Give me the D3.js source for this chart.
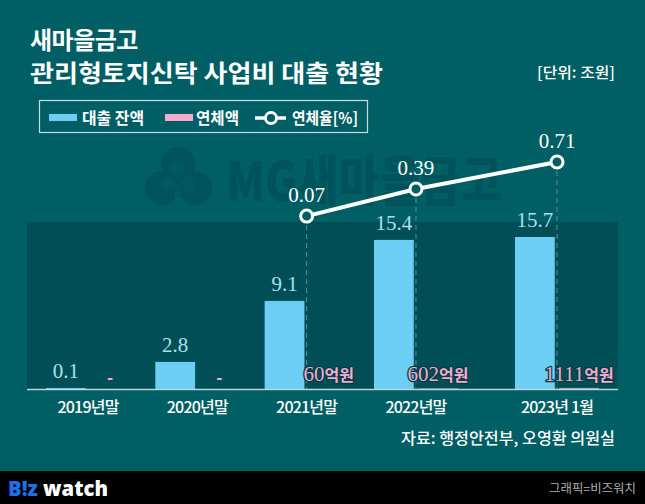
<!DOCTYPE html>
<html><head><meta charset="utf-8">
<script src="https://cdn.jsdelivr.net/npm/d3@7"></script>
<style>
html,body{margin:0;padding:0;background:#005e65;}
svg{display:block;}
</style></head>
<body>
<script>
// ---- data ----
const categories = ["2019년말", "2020년말", "2021년말", "2022년말", "2023년 1월"];
const loanBalance = [0.1, 2.8, 9.1, 15.4, 15.7];          // 대출 잔액 (조원)
const overdueAmount = [0, 0, 0.006, 0.0602, 0.1111];      // 연체액 (조원)
const overdueNumbers = [null, null, "60", "602", "1111"]; // 연체액 (억원)
const overdueRate = [null, null, 0.07, 0.39, 0.71];       // 연체율 (%)

// ---- layout ----
const W = 645, H = 504;
const slots = [0, 1, 2, 3, 4.29];
const plot = {left: 27, right: 618, top: 222, bottom: 389};
const C = {bg: "#005e65", plot: "#004f56", blue: "#6dcef5", pink: "#f6a9cf",
  blueText: "#a9e0f0", wm: "#00535a"};

const svg = d3.select("body").append("svg").attr("width", W).attr("height", H);
svg.append("rect").attr("width", W).attr("height", H).attr("fill", C.bg);

const x = d3.scaleLinear().domain([0, 4.29]).range([88, 557]);
const inner = d3.scaleBand().domain(["loan", "overdue"]).range([-42, 42]).paddingInner(0.1);
const yBar = d3.scaleLinear().domain([0, 17.25]).range([plot.bottom, plot.top]);
const yRate = d3.scaleLinear().domain([0, 1]).range([plot.top, 137.5]);

// watermark (clover logo + name)
const wm = svg.append("g").attr("fill", C.wm);
[[178, 164], [162, 188], [195, 188]].forEach(([cx, cy]) =>
  wm.append("circle").attr("cx", cx).attr("cy", cy).attr("r", 17));
wm.append("rect").attr("x", 165).attr("y", 172).attr("width", 26).attr("height", 20);
const hole = svg.append("g").attr("fill", "#00595f");
[[178, 168], [168, 184], [188, 184]].forEach(([cx, cy]) =>
  hole.append("circle").attr("cx", cx).attr("cy", cy).attr("r", 7.5));
hole.append("rect").attr("x", 175).attr("y", 184).attr("width", 6).attr("height", 14);
wm.append("text").attr("x", 226).attr("y", 201)
  .attr("font-family", "'Noto Sans CJK KR', sans-serif").attr("font-weight", 900)
  .attr("font-size", 54).attr("textLength", 276).attr("lengthAdjust", "spacingAndGlyphs")
  .text("MG새마을금고");

// plot area
svg.append("rect").attr("x", plot.left).attr("y", plot.top)
  .attr("width", plot.right - plot.left).attr("height", plot.bottom - plot.top)
  .attr("fill", C.plot);

// title
const title = svg.append("g").attr("fill", "#fff")
  .attr("font-family", "'Noto Sans CJK KR', sans-serif").attr("font-weight", 700);
title.append("text").attr("x", 30).attr("y", 49).attr("font-size", 24)
  .attr("letter-spacing", -0.5).text("새마을금고");
title.append("text").attr("x", 30).attr("y", 82).attr("font-size", 24)
  .attr("textLength", 353).attr("lengthAdjust", "spacingAndGlyphs")
  .text("관리형토지신탁 사업비 대출 현황");
svg.append("text").attr("x", 615).attr("y", 78).attr("text-anchor", "end")
  .attr("fill", "#fff").attr("font-family", "'Noto Sans CJK KR', sans-serif")
  .attr("font-weight", 500).attr("font-size", 15)
  .attr("textLength", 78).attr("lengthAdjust", "spacingAndGlyphs").text("[단위: 조원]");

// legend
const lg = svg.append("g").attr("font-family", "'Noto Sans CJK KR', sans-serif")
  .attr("font-weight", 700).attr("font-size", 16).attr("fill", "#fff");
lg.append("rect").attr("x", 39.5).attr("y", 100.5).attr("width", 328).attr("height", 32)
  .attr("fill", "none").attr("stroke", "#c9dcdc").attr("stroke-width", 1.2);
lg.append("rect").attr("x", 49).attr("y", 114).attr("width", 28).attr("height", 7).attr("fill", C.blue);
lg.append("text").attr("x", 82).attr("y", 123.5).attr("textLength", 62)
  .attr("lengthAdjust", "spacingAndGlyphs").text("대출 잔액");
lg.append("rect").attr("x", 165).attr("y", 114).attr("width", 28).attr("height", 7).attr("fill", C.pink);
lg.append("text").attr("x", 196).attr("y", 123.5).attr("textLength", 43)
  .attr("lengthAdjust", "spacingAndGlyphs").text("연체액");
lg.append("line").attr("x1", 255).attr("x2", 286).attr("y1", 118).attr("y2", 118)
  .attr("stroke", "#fff").attr("stroke-width", 3.5);
lg.append("circle").attr("cx", 271).attr("cy", 118).attr("r", 5.5)
  .attr("fill", C.bg).attr("stroke", "#fff").attr("stroke-width", 2.8);
lg.append("text").attr("x", 292).attr("y", 123.5).attr("textLength", 66)
  .attr("lengthAdjust", "spacingAndGlyphs").text("연체율[%]");

// data rows
const rows = categories.map((c, i) => ({c, slot: slots[i], loan: loanBalance[i],
  od: overdueAmount[i], odn: overdueNumbers[i], rate: overdueRate[i]}));

// dashed guide lines
svg.append("g").selectAll("line").data(rows.filter(d => d.rate != null)).join("line")
  .attr("x1", d => x(d.slot)).attr("x2", d => x(d.slot))
  .attr("y1", d => yRate(d.rate)).attr("y2", plot.bottom)
  .attr("stroke", "#5f8f93").attr("stroke-width", 1).attr("stroke-dasharray", "5,4");

// bars
svg.append("g").selectAll("rect").data(rows).join("rect")
  .attr("x", d => x(d.slot) + inner("loan")).attr("width", inner.bandwidth())
  .attr("y", d => yBar(d.loan)).attr("height", d => plot.bottom - yBar(d.loan))
  .attr("fill", C.blue);
svg.append("g").selectAll("rect").data(rows.filter(d => d.od > 0)).join("rect")
  .attr("x", d => x(d.slot) + inner("overdue")).attr("width", inner.bandwidth())
  .attr("y", d => yBar(d.od)).attr("height", d => Math.max(1, plot.bottom - yBar(d.od)))
  .attr("fill", C.pink).attr("opacity", 0.8);

// baseline
svg.append("line").attr("x1", plot.left).attr("x2", plot.right)
  .attr("y1", plot.bottom + 0.5).attr("y2", plot.bottom + 0.5)
  .attr("stroke", "#b9d6d6").attr("stroke-width", 1.5);

// loan labels
svg.append("g").selectAll("text").data(rows).join("text")
  .attr("x", d => x(d.slot) + inner("loan") + inner.bandwidth() / 2)
  .attr("y", d => yBar(d.loan) - 10).attr("text-anchor", "middle")
  .attr("font-family", "'Liberation Serif', serif").attr("font-size", 21)
  .attr("fill", C.blueText).text(d => d.loan.toFixed(1));

// overdue labels
const odg = svg.append("g");
odg.selectAll("text").data(rows).join("text")
  .attr("x", d => x(d.slot) + inner("overdue") + inner.bandwidth() / 2)
  .attr("y", d => d.odn == null ? 384 : 381).attr("text-anchor", "middle")
  .attr("fill", C.pink).attr("stroke", "#003c42").attr("stroke-width", 2.5)
  .attr("paint-order", "stroke").attr("stroke-linejoin", "round")
  .each(function(d) {
    const t = d3.select(this);
    if (d.odn == null) {
      t.attr("stroke", "none").attr("font-family", "'Noto Sans CJK KR', sans-serif")
        .attr("font-weight", 900).attr("font-size", 16).text("-");
    } else {
      t.append("tspan").attr("font-family", "'Liberation Serif', serif")
        .attr("font-size", 21).text(d.odn);
      t.append("tspan").attr("font-family", "'Noto Sans CJK KR', sans-serif")
        .attr("font-weight", 700).attr("font-size", 16).text("억원");
    }
  });

// rate line
const rr = rows.filter(d => d.rate != null);
svg.append("path").datum(rr)
  .attr("d", d3.line().x(d => x(d.slot)).y(d => yRate(d.rate)))
  .attr("fill", "none").attr("stroke", "#fff").attr("stroke-width", 4);
svg.append("g").selectAll("circle").data(rr).join("circle")
  .attr("cx", d => x(d.slot)).attr("cy", d => yRate(d.rate)).attr("r", 6)
  .attr("fill", C.bg).attr("stroke", "#fff").attr("stroke-width", 3);
svg.append("g").selectAll("text").data(rr).join("text")
  .attr("x", d => x(d.slot)).attr("y", d => yRate(d.rate) - 14).attr("text-anchor", "middle")
  .attr("font-family", "'Liberation Serif', serif").attr("font-size", 21)
  .attr("fill", "#fff").text(d => d.rate.toFixed(2));

// x axis labels
const xAxis = d3.axisBottom(d3.scalePoint().domain(categories).range([0, 1]))
  .tickSize(0).tickPadding(0);
const ax = svg.append("g").attr("transform", `translate(0,${plot.bottom})`).call(xAxis);
ax.select(".domain").remove();
ax.selectAll(".tick").attr("transform", (d, i) => `translate(${x(slots[i])},0)`);
ax.selectAll("text").attr("y", 24).attr("dy", 0).attr("fill", "#fff")
  .attr("font-family", "'Noto Sans CJK KR', sans-serif").attr("font-weight", 500)
  .attr("font-size", 16).attr("letter-spacing", -0.8);

// source
svg.append("text").attr("x", 615).attr("y", 444).attr("text-anchor", "end")
  .attr("fill", "#fff").attr("font-family", "'Noto Sans CJK KR', sans-serif")
  .attr("font-weight", 500).attr("font-size", 16)
  .attr("textLength", 214).attr("lengthAdjust", "spacingAndGlyphs")
  .text("자료: 행정안전부, 오영환 의원실");

// footer
svg.append("rect").attr("x", 0).attr("y", 471).attr("width", W).attr("height", H - 471).attr("fill", "#000");
const logo = svg.append("text").attr("x", 8).attr("y", 496)
  .attr("font-family", "'Noto Sans', 'DejaVu Sans', sans-serif").attr("font-weight", 900)
  .attr("font-size", 21).attr("textLength", 100).attr("lengthAdjust", "spacingAndGlyphs");
logo.append("tspan").attr("fill", "#1f6fe8").text("B!z");
logo.append("tspan").attr("fill", "#fff").text(" watch");
svg.append("text").attr("x", 636).attr("y", 493).attr("text-anchor", "end")
  .attr("fill", "#b0b0b0").attr("font-family", "'Noto Sans CJK KR', sans-serif")
  .attr("font-size", 12).attr("textLength", 87).attr("lengthAdjust", "spacingAndGlyphs")
  .text("그래픽=비즈워치");
</script>
</body></html>
